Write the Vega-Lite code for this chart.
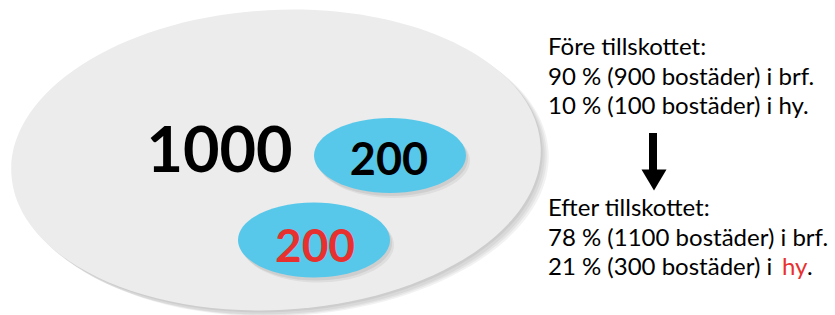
{
  "$schema": "https://vega.github.io/schema/vega-lite/v6.json",
  "width": 835,
  "height": 315,
  "padding": 0,
  "autosize": {"type": "none"},
  "background": "#ffffff",
  "config": {"view": {"stroke": null}},
  "data": {
    "values": [
      {"part": "plane", "x": 276, "y": 160},
      {"part": "brf", "x": 390, "y": 155.5, "label": "200"},
      {"part": "hy", "x": 314, "y": 240, "label": "200"},
      {"part": "total", "x": 219.5, "y": 172, "label": "1000"},
      {"part": "note", "x": 548, "y": 55, "label": "Före tillskottet:"},
      {"part": "note", "x": 548, "y": 85, "label": "90 % (900 bostäder) i brf."},
      {"part": "note", "x": 548, "y": 114, "label": "10 % (100 bostäder) i hy."},
      {"part": "note", "x": 548, "y": 216, "label": "Efter tillskottet:"},
      {"part": "note", "x": 548, "y": 246, "label": "78 % (1100 bostäder) i brf."},
      {"part": "note", "x": 548, "y": 275, "label": "21 % (300 bostäder) i"},
      {"part": "notered", "x": 782, "y": 275, "label": "hy"},
      {"part": "notedot", "x": 807, "y": 275, "label": "."},
      {"part": "arrow", "x": 653, "y": 133, "y2": 171},
      {"part": "head", "x": 654, "y": 180}
    ]
  },
  "encoding": {
    "x": {"field": "x", "type": "quantitative", "scale": {"domain": [0, 835], "nice": false, "zero": false}, "axis": null},
    "y": {"field": "y", "type": "quantitative", "scale": {"domain": [0, 315], "nice": false, "zero": false, "reverse": true}, "axis": null}
  },
  "layer": [
    {"transform": [{"filter": "datum.part == 'plane'"}], "mark": {"type": "point", "shape": "M-1,0A1,0.566,0,1,0,1,0A1,0.566,0,1,0,-1,0Z", "size": 280900, "angle": -3, "filled": true, "color": "#000000", "opacity": 0.05, "strokeWidth": 0, "xOffset": 2, "yOffset": 2}},
    {"transform": [{"filter": "datum.part == 'plane'"}], "mark": {"type": "point", "shape": "M-1,0A1,0.566,0,1,0,1,0A1,0.566,0,1,0,-1,0Z", "size": 280900, "angle": -3, "filled": true, "color": "#000000", "opacity": 0.05, "strokeWidth": 0, "xOffset": 4, "yOffset": 4}},
    {"transform": [{"filter": "datum.part == 'plane'"}], "mark": {"type": "point", "shape": "M-1,0A1,0.566,0,1,0,1,0A1,0.566,0,1,0,-1,0Z", "size": 280900, "angle": -3, "filled": true, "color": "#000000", "opacity": 0.05, "strokeWidth": 0, "xOffset": 6, "yOffset": 5}},
    {"transform": [{"filter": "datum.part == 'plane'"}], "mark": {"type": "point", "shape": "M-1,0A1,0.566,0,1,0,1,0A1,0.566,0,1,0,-1,0Z", "size": 280900, "angle": -3, "filled": true, "color": "#000000", "opacity": 0.05, "strokeWidth": 0, "xOffset": 8, "yOffset": 6}},
    {"transform": [{"filter": "datum.part == 'plane'"}], "mark": {"type": "point", "shape": "M-1,0A1,0.566,0,1,0,1,0A1,0.566,0,1,0,-1,0Z", "size": 280900, "angle": -3, "filled": true, "color": "#ececec", "opacity": 1, "strokeWidth": 0}},
    {"transform": [{"filter": "datum.part == 'brf' || datum.part == 'hy'"}], "mark": {"type": "point", "shape": "M-1,0A1,0.493,0,1,0,1,0A1,0.493,0,1,0,-1,0Z", "size": 23104, "filled": true, "color": "#000000", "opacity": 0.07, "strokeWidth": 0, "xOffset": 2, "yOffset": 3}},
    {"transform": [{"filter": "datum.part == 'brf' || datum.part == 'hy'"}], "mark": {"type": "point", "shape": "M-1,0A1,0.493,0,1,0,1,0A1,0.493,0,1,0,-1,0Z", "size": 23104, "filled": true, "color": "#000000", "opacity": 0.06, "strokeWidth": 0, "xOffset": 4, "yOffset": 5}},
    {"transform": [{"filter": "datum.part == 'brf' || datum.part == 'hy'"}], "mark": {"type": "point", "shape": "M-1,0A1,0.493,0,1,0,1,0A1,0.493,0,1,0,-1,0Z", "size": 23104, "filled": true, "color": "#58c8ea", "opacity": 1, "strokeWidth": 0}},
    {"transform": [{"filter": "datum.part == 'total'"}], "mark": {"type": "text", "font": "Lato", "fontWeight": "bold", "fontSize": 63, "align": "center", "baseline": "alphabetic", "color": "#000000"}, "encoding": {"text": {"field": "label"}}},
    {"transform": [{"filter": "datum.part == 'brf'"}], "mark": {"type": "text", "font": "Lato", "fontWeight": "bold", "fontSize": 45, "align": "center", "baseline": "alphabetic", "color": "#000000", "dx": -1, "dy": 19.5}, "encoding": {"text": {"field": "label"}}},
    {"transform": [{"filter": "datum.part == 'hy'"}], "mark": {"type": "text", "font": "Lato", "fontWeight": "bold", "fontSize": 46, "align": "center", "baseline": "alphabetic", "color": "#e8312f", "dx": 1, "dy": 22}, "encoding": {"text": {"field": "label"}}},
    {"transform": [{"filter": "datum.part == 'note'"}], "mark": {"type": "text", "font": "Lato", "fontSize": 24, "align": "left", "baseline": "alphabetic", "color": "#000000"}, "encoding": {"text": {"field": "label"}}},
    {"transform": [{"filter": "datum.part == 'notered'"}], "mark": {"type": "text", "font": "Lato", "fontSize": 24, "align": "left", "baseline": "alphabetic", "color": "#e8312f"}, "encoding": {"text": {"field": "label"}}},
    {"transform": [{"filter": "datum.part == 'notedot'"}], "mark": {"type": "text", "font": "Lato", "fontSize": 24, "align": "left", "baseline": "alphabetic", "color": "#000000"}, "encoding": {"text": {"field": "label"}}},
    {"transform": [{"filter": "datum.part == 'arrow'"}], "mark": {"type": "rule", "color": "#000000", "strokeWidth": 8}, "encoding": {"y2": {"field": "y2"}}},
    {"transform": [{"filter": "datum.part == 'head'"}], "mark": {"type": "point", "shape": "M-1,-0.84L1,-0.84L0,0.84Z", "size": 625, "filled": true, "color": "#000000", "opacity": 1, "strokeWidth": 0}}
  ]
}
